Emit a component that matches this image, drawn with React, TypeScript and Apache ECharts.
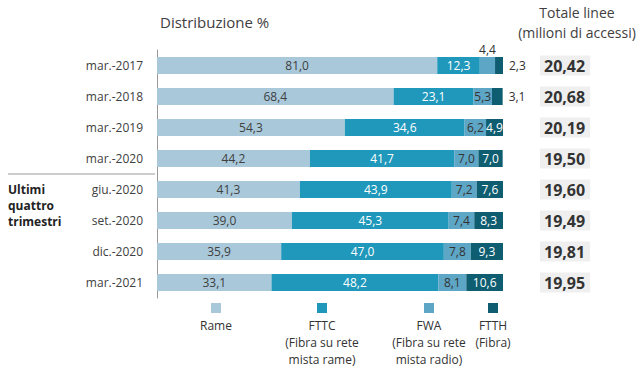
import React, { useEffect, useRef } from "react";
import * as echarts from "echarts";

const categories = ["mar.-2017", "mar.-2018", "mar.-2019", "mar.-2020", "giu.-2020", "set.-2020", "dic.-2020", "mar.-2021"];
const rame = [81.0, 68.4, 54.3, 44.2, 41.3, 39.0, 35.9, 33.1];
const fttc = [12.3, 23.1, 34.6, 41.7, 43.9, 45.3, 47.0, 48.2];
const fwa = [4.4, 5.3, 6.2, 7.0, 7.2, 7.4, 7.8, 8.1];
const ftth = [2.3, 3.1, 4.9, 7.0, 7.6, 8.3, 9.3, 10.6];
const totals = ["20,42", "20,68", "20,19", "19,50", "19,60", "19,49", "19,81", "19,95"];
const seriesNames = ["Rame", "FTTC", "FWA", "FTTH"];
const legendLabels = ["Rame", "FTTC\n(Fibra su rete\nmista rame)", "FWA\n(Fibra su rete\nmista radio)", "FTTH\n(Fibra)"];
const colors = ["#a9c9da", "#1f98bb", "#5ea6c6", "#0e5d70"];
const labelColors = ["#404040", "#ffffff", "#333333", "#ffffff"];

const FONT = "'Open Sans', sans-serif";
const fmt = (v: number) => v.toFixed(1).replace(".", ",");

export default function App() {
  const ref = useRef<HTMLDivElement>(null);
  useEffect(() => {
    if (!ref.current) return;
    const chart = echarts.init(ref.current, null, { renderer: "svg" });
    const all = [rame, fttc, fwa, ftth];
    const series = all.map((arr, si) => ({
      name: seriesNames[si],
      type: "bar",
      stack: "t",
      barWidth: 17,
      itemStyle: { color: colors[si] },
      label: {
        show: true,
        position: "inside",
        color: labelColors[si],
        fontSize: 12,
        fontFamily: FONT,
        formatter: (p: any) => fmt(p.value),
      },
      data: arr.map((v, i) => {
        if (si === 2 && i === 0) {
          return { value: v, label: { position: "top", color: "#333", distance: 2 } };
        }
        if (si === 3 && (i === 0 || i === 1)) {
          return { value: v, label: { position: "right", color: "#333", distance: 6 } };
        }
        return v;
      }),
    }));

    const legendGraphics: any[] = [];
    const legendX = [216, 322, 429, 493];
    legendX.forEach((x, i) => {
      legendGraphics.push({
        type: "rect",
        shape: { x: x - 5, y: 303, width: 10, height: 10 },
        style: { fill: colors[i] },
      });
      legendGraphics.push({
        type: "text",
        x,
        y: 317,
        style: {
          text: legendLabels[i],
          fill: "#333",
          font: `12px ${FONT}`,
          textAlign: "center",
          lineHeight: 17,
        },
      });
    });

    chart.setOption({
      animation: false,
      grid: { left: 157, right: 137, top: 50, bottom: 73 },
      xAxis: { type: "value", min: 0, max: 100, show: false },
      yAxis: [
        {
          type: "category",
          data: categories,
          inverse: true,
          axisLine: { show: true, lineStyle: { color: "#999", width: 1 } },
          axisTick: { show: false },
          axisLabel: { color: "#404040", fontSize: 12, fontFamily: FONT, margin: 14 },
        },
        {
          type: "category",
          data: totals,
          inverse: true,
          position: "right",
          axisLine: { show: false },
          axisTick: { show: false },
          axisLabel: {
            color: "#333",
            fontSize: 16,
            fontWeight: "bold",
            fontFamily: FONT,
            margin: 37,
            backgroundColor: "#efefef",
            padding: [3, 5, 1, 4],
          },
        },
      ],
      series,
      graphic: [
        {
          type: "text",
          x: 160,
          y: 14,
          style: { text: "Distribuzione %", fill: "#404040", font: `15px ${FONT}` },
        },
        {
          type: "text",
          x: 577,
          y: 2,
          style: {
            text: "Totale linee\n(milioni di accessi)",
            fill: "#404040",
            font: `14px ${FONT}`,
            textAlign: "center",
            lineHeight: 20,
          },
        },
        {
          type: "line",
          shape: { x1: 8, y1: 174, x2: 155, y2: 174 },
          style: { stroke: "#999", lineWidth: 1 },
        },
        {
          type: "text",
          x: 8,
          y: 181,
          style: {
            text: "Ultimi\nquattro\ntrimestri",
            fill: "#222",
            font: `bold 12px ${FONT}`,
            lineHeight: 16,
          },
        },
        ...legendGraphics,
      ],
    });
    return () => chart.dispose();
  }, []);
  return <div ref={ref} style={{ position: "absolute", left: 0, top: 0, width: 640, height: 371 }} />;
}
